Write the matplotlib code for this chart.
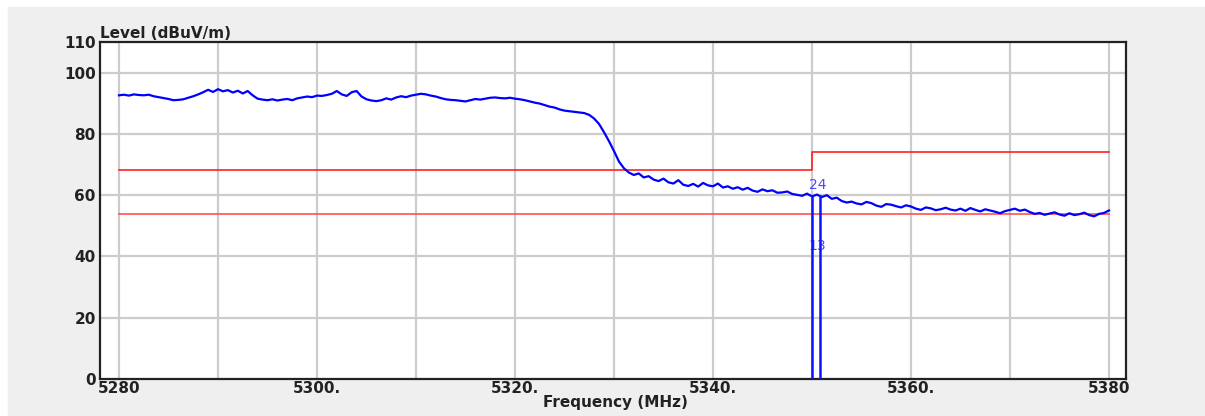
import matplotlib
matplotlib.use('Agg')
import matplotlib.pyplot as plt
from matplotlib.patches import Rectangle
import numpy as np

plt.rcParams['font.family'] = ['DejaVu Sans']

# trace: 5280 .. 5380 MHz, 0.5 MHz step, level in dBuV/m
freq_start, freq_step = 5280.0, 0.5
level = [
    92.6, 92.8, 92.5, 92.9, 92.7, 92.6, 92.8, 92.3, 92.0, 91.7,
    91.4, 91.0, 91.1, 91.3, 91.8, 92.3, 92.9, 93.6, 94.4, 93.7,
    94.6, 93.9, 94.3, 93.5, 94.1, 93.2, 94.0, 92.6, 91.5, 91.2,
    91.0, 91.3, 90.9, 91.2, 91.4, 91.0, 91.6, 91.9, 92.2, 92.0,
    92.5, 92.4, 92.7, 93.1, 94.0, 92.9, 92.4, 93.6, 94.0, 92.2,
    91.3, 90.9, 90.7, 91.0, 91.6, 91.2, 91.9, 92.3, 92.0, 92.5,
    92.8, 93.1, 92.9, 92.5, 92.2, 91.7, 91.3, 91.1, 91.0, 90.8,
    90.6, 91.0, 91.4, 91.2, 91.5, 91.8, 91.9, 91.7, 91.6, 91.8,
    91.5, 91.3, 91.0, 90.6, 90.2, 89.9, 89.4, 88.9, 88.6, 88.0,
    87.6, 87.4, 87.2, 87.0, 86.8, 86.2, 85.0, 83.2, 80.5, 77.6,
    74.4, 71.0, 68.8, 67.4, 66.6, 67.1, 65.8, 66.2, 65.1, 64.6,
    65.4, 64.2, 63.8, 64.9, 63.4, 63.0, 63.7, 62.8, 64.0, 63.2,
    62.9, 63.8, 62.5, 62.9, 62.1, 62.6, 61.8, 62.4, 61.5, 61.1,
    61.9, 61.3, 61.6, 60.8, 60.9, 61.2, 60.4, 60.1, 59.8, 60.5,
    59.6, 60.2, 59.4, 60.0, 58.8, 59.2, 58.1, 57.6, 57.9, 57.3,
    57.0, 57.8, 57.4, 56.6, 56.2, 57.1, 56.9, 56.4, 56.0, 56.7,
    56.3, 55.6, 55.2, 56.0, 55.7, 55.1, 55.4, 55.9, 55.3, 55.0,
    55.6, 54.9, 55.8, 55.2, 54.7, 55.4, 55.0, 54.6, 54.1, 54.8,
    55.2, 55.6, 54.9, 55.3, 54.5, 53.9, 54.2, 53.6, 54.0, 54.4,
    53.7, 53.3, 54.1, 53.5, 53.8, 54.3, 53.5, 53.1, 53.9, 54.2,
    55.0,
]
freq = freq_start + freq_step * np.arange(len(level))

# limit lines (red)
peak_limit_f = [5280, 5350, 5350, 5380]
peak_limit_v = [68.2, 68.2, 74.0, 74.0]
avg_limit_f = [5280, 5380]
avg_limit_v = [54.0, 54.0]

# markers
marker_f = [5350.0, 5350.85]
marker_v = [60.0, 60.0]

xtick_pos = [5280, 5300, 5320, 5340, 5360, 5380]
xtick_lbl = ["5280", "5300.", "5320.", "5340.", "5360.", "5380"]
ytick_pos = [0, 20, 40, 60, 80, 100, 110]

W, H = 1205, 416
LBL = 11
fig = plt.figure(figsize=(W / 100, H / 100), dpi=100, facecolor='white')
fig.patches.append(Rectangle((8 / W, 0), 1 - 8 / W, (H - 7) / H,
                             transform=fig.transFigure, color='#efefef', zorder=-10))

ax = fig.add_axes([100 / W, (H - 379) / H, (1126 - 100) / W, (379 - 42) / H])
ax.set_facecolor('white')
ax.set_xlim(5278.08, 5381.72)
ax.set_ylim(0, 110)

for f in range(5280, 5381, 10):
    ax.axvline(f, color='#cccccc', lw=1.6, zorder=0)
for v in range(20, 101, 20):
    ax.axhline(v, color='#cccccc', lw=1.6, zorder=0)

ax.plot(peak_limit_f, peak_limit_v, color='#ff2020', lw=1.2, zorder=2)
ax.plot(avg_limit_f, avg_limit_v, color='#ff5050', lw=1.2, zorder=2)
ax.plot(freq, level, color='#0000ff', lw=1.6, zorder=3)

for f, v in zip(marker_f, marker_v):
    ax.vlines(f, 0, v, color='#0a14ff', lw=1.8, zorder=4)
ax.text(5350.6, 61.0, "24", color='#4a4aff', fontsize=10, ha='center', va='bottom')
ax.text(5350.5, 43.5, "13", color='#4a4aff', fontsize=10, ha='center', va='center')

for s in ax.spines.values():
    s.set_color('#222222')
    s.set_linewidth(1.6)

ax.set_xticks(xtick_pos)
ax.set_xticklabels(xtick_lbl)
ax.set_yticks(ytick_pos)
ax.tick_params(length=0, labelsize=LBL, labelcolor='#222222')
ax.tick_params(axis='x', pad=1.5)
ax.tick_params(axis='y', pad=3)
for t in ax.get_xticklabels() + ax.get_yticklabels():
    t.set_fontweight('bold')

fig.text(100 / W, (H - 33) / H, "Level (dBuV/m)", fontsize=LBL, fontweight='bold',
         color='#222222', ha='left', va='center')
fig.text(615 / W, (H - 403) / H, "Frequency (MHz)", fontsize=LBL, fontweight='bold',
         color='#222222', ha='center', va='center')

fig.savefig('out.png', dpi=100, facecolor=fig.get_facecolor())
